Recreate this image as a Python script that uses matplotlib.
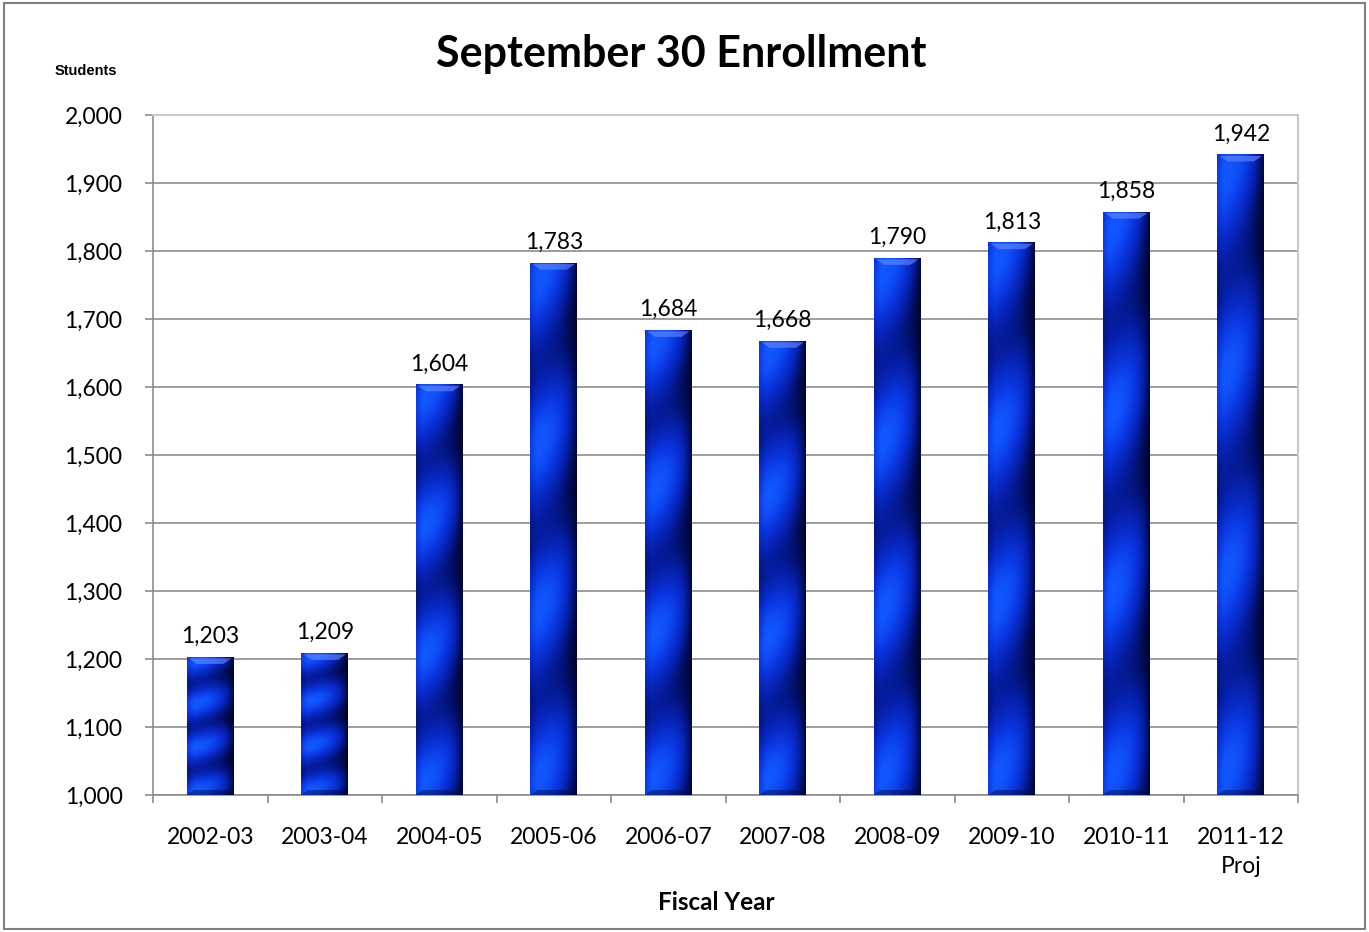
import matplotlib
matplotlib.use("Agg")
import matplotlib.pyplot as plt
import numpy as np
from matplotlib.colors import LinearSegmentedColormap
from matplotlib.patches import Rectangle, Polygon
from matplotlib.ticker import FuncFormatter, FixedLocator

# data
years = ["2002-03", "2003-04", "2004-05", "2005-06", "2006-07",
         "2007-08", "2008-09", "2009-10", "2010-11", "2011-12\nProj"]
students = [1203, 1209, 1604, 1783, 1684, 1668, 1790, 1813, 1858, 1942]
y_min, y_max, y_step = 1000, 2000, 100

plt.rcParams["font.family"] = ["Lato", "DejaVu Sans"]

fig = plt.figure(figsize=(13.69, 9.32), dpi=100)
ax = fig.add_axes([0.1118, 0.147, 0.8364, 0.7296])

# outer frame of the chart
fig.patches.append(Rectangle((0.003, 0.003), 0.994, 0.994, transform=fig.transFigure,
                             fill=False, edgecolor="#7f7f7f", linewidth=1.5))

# glossy blue gradient for the bars
cmap = LinearSegmentedColormap.from_list(
    "glossblue", ["#00010a", "#000c58", "#0620ac", "#0a36e0", "#1258ff"])

x = np.arange(len(years))
width = 0.41
bars = ax.bar(x, [v - y_min for v in students], width, bottom=y_min,
              facecolor="none", edgecolor="none", zorder=3)

u = np.linspace(0, 1, 60)
v = np.linspace(0, 1, 400)
U, V = np.meshgrid(u, v)
stripes = 0.5 + 0.5 * np.cos(2 * np.pi * 3.2 * (V - 0.09 * U) - 0.3)
side = (1 - 0.8 * U ** 3) * (0.8 + 0.2 * np.clip(U / 0.15, 0, 1))
tex = np.clip((0.46 + 0.54 * stripes) * side, 0, 1)

px = (y_max - y_min) / 680.0  # data units per pixel
for b in bars:
    x0, w = b.get_x(), b.get_width()
    top = b.get_y() + b.get_height()
    im = ax.imshow(tex, extent=[x0, x0 + w, y_min, top], origin="lower",
                   cmap=cmap, vmin=0, vmax=1, aspect="auto", zorder=3,
                   interpolation="bilinear")
    im.set_clip_path(b)
    # top bevel
    bh = 7 * px
    ax.add_patch(Polygon([[x0 + w * 0.05, top - 1.5 * px], [x0 + w * 0.95, top - 1.5 * px],
                          [x0 + w * 0.78, top - bh], [x0 + w * 0.22, top - bh]], closed=True,
                         facecolor="#6a8cff", alpha=0.6, edgecolor="none", zorder=4))
    # bottom shading
    ax.add_patch(Polygon([[x0, y_min], [x0 + w, y_min], [x0 + w * 0.85, y_min + 5 * px],
                          [x0 + w * 0.15, y_min + 5 * px]], closed=True,
                         facecolor="#000a40", alpha=0.45, edgecolor="none", zorder=4))

for xi, val in zip(x, students):
    ax.annotate("{:,}".format(val), (xi, val), xytext=(0, 7), textcoords="offset points",
                ha="center", va="bottom", fontsize=16.5, color="black", zorder=5)

ax.set_xlim(-0.5, len(years) - 0.5)
ax.set_ylim(y_min, y_max)

ax.set_yticks(np.arange(y_min, y_max + 1, y_step))
ax.yaxis.set_major_formatter(FuncFormatter(lambda val, pos: "{:,.0f}".format(val)))
ax.yaxis.grid(True, color="#8c8c8c", linewidth=1.2, zorder=0)
ax.set_axisbelow(True)

ax.set_xticks(x)
ax.set_xticklabels(years, linespacing=1.5)
ax.xaxis.set_minor_locator(FixedLocator(np.arange(-0.5, len(years), 1.0)))
ax.tick_params(axis="x", which="major", length=0, pad=23, labelsize=16.5)
ax.tick_params(axis="x", which="minor", length=6, width=1.2, color="#8c8c8c")
ax.tick_params(axis="y", length=6, width=1.2, color="#8c8c8c", pad=16, labelsize=16.5)

for s in ["left", "bottom"]:
    ax.spines[s].set_color("#8c8c8c")
    ax.spines[s].set_linewidth(1.2)
for s in ["top", "right"]:
    ax.spines[s].set_color("#c8c8c8")
    ax.spines[s].set_linewidth(1.5)

fig.text(0.4975, 0.942, "September 30 Enrollment", ha="center", va="center",
         fontsize=31, fontweight="bold")
fig.text(0.0625, 0.924, "Students", ha="center", va="center",
         fontsize=10.5, fontweight="bold", family="Liberation Sans")
fig.text(0.5235, 0.032, "Fiscal Year", ha="center", va="center",
         fontsize=17.5, fontweight="bold")

fig.savefig("out.png", dpi=100)
